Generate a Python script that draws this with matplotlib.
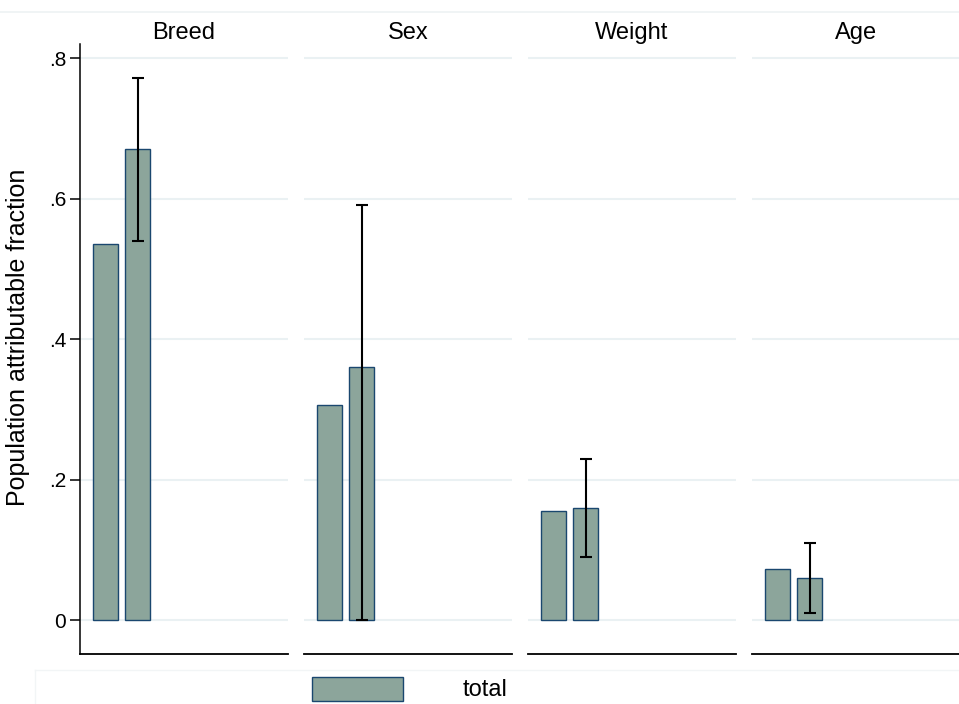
import matplotlib.pyplot as plt
from matplotlib.patches import Rectangle
from matplotlib.lines import Line2D

plt.rcParams['font.family'] = ['Liberation Sans', 'DejaVu Sans']

# PAF estimates by risk factor
groups = ["Breed", "Sex", "Weight", "Age"]
paf_crude = [0.535, 0.307, 0.155, 0.073]
paf_adj = [0.670, 0.360, 0.160, 0.060]
ci_lo = [0.540, 0.000, 0.090, 0.010]
ci_hi = [0.771, 0.591, 0.230, 0.110]
yticks = [0, 0.2, 0.4, 0.6, 0.8]
ytick_labels = ["0", ".2", ".4", ".6", ".8"]

bar_fill = "#8ca59b"
bar_edge = "#1a476f"
grid_col = "#eaf1f3"

W, H = 959, 704
fig = plt.figure(figsize=(W / 100, H / 100), dpi=100)

panel_w = 208
gap = 16
left0 = 80
top, bottom = 44, 654

for i, g in enumerate(groups):
    x0 = left0 + i * (panel_w + gap)
    ax = fig.add_axes([x0 / W, 1 - bottom / H, panel_w / W, (bottom - top) / H])
    ax.set_xlim(0.203, 6.703)
    ax.set_ylim(-0.048, 0.82)

    for t in yticks:
        ax.axhline(t, color=grid_col, lw=1.5, zorder=0)

    ax.bar([1, 2], [paf_crude[i], paf_adj[i]], width=0.78,
           color=bar_fill, edgecolor=bar_edge, linewidth=1.0, zorder=2)
    ax.errorbar(2, paf_adj[i],
                yerr=[[paf_adj[i] - ci_lo[i]], [ci_hi[i] - paf_adj[i]]],
                fmt='none', ecolor='black', elinewidth=1.5,
                capsize=4.5, capthick=1.5, zorder=3)

    ax.set_title(g, fontsize=17, pad=3)
    ax.set_xticks([])
    ax.spines['top'].set_visible(False)
    ax.spines['right'].set_visible(False)
    ax.spines['bottom'].set_linewidth(1.3)
    if i == 0:
        ax.set_yticks(yticks)
        ax.set_yticklabels(ytick_labels, fontsize=15)
        ax.tick_params(axis='y', length=7, width=1.1, pad=3)
        ax.spines['left'].set_linewidth(1.1)
    else:
        ax.set_yticks([])
        ax.spines['left'].set_visible(False)

fig.text(18 / W, 1 - 337 / H, "Population attributable fraction",
         rotation=90, fontsize=18, ha='center', va='center')

# faint outer frame lines
fig.add_artist(Line2D([0, 1], [1 - 12 / H, 1 - 12 / H], color="#eef2f4", lw=1.2))
fig.add_artist(Line2D([35 / W, 1], [1 - 670 / H, 1 - 670 / H], color="#f2f5f6", lw=1.0))
fig.add_artist(Line2D([35 / W, 35 / W], [0, 1 - 670 / H], color="#f2f5f6", lw=1.0))

# legend key
fig.add_artist(Rectangle((312 / W, 1 - 701 / H), 91 / W, 24 / H,
                         facecolor=bar_fill, edgecolor=bar_edge, lw=1.0,
                         transform=fig.transFigure))
fig.text(463 / W, 1 - 690 / H, "total", fontsize=17, va='center', ha='left')

fig.savefig("out.png", dpi=100)
